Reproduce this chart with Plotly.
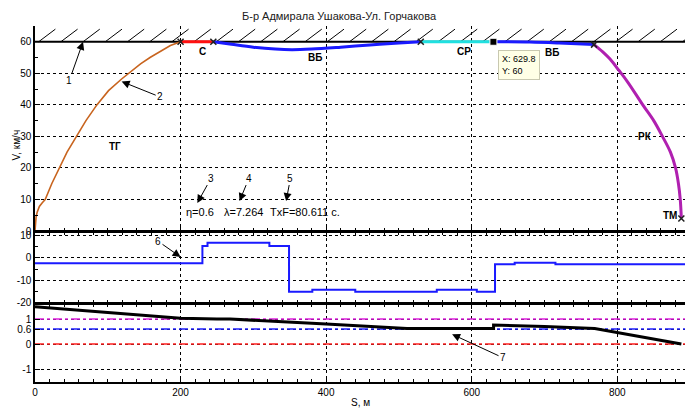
import numpy as np
import plotly.graph_objects as go
from plotly.subplots import make_subplots

# ---------------- data ----------------
title_text = "Б-р Адмирала Ушакова-Ул. Горчакова"
v_limit = 60

tg_s = [0, 0.5, 1.5, 3, 6, 10, 14, 23, 33, 44, 57, 70, 85, 101, 119, 128.6, 145, 158, 172, 186, 200]
tg_v = [0, 2.5, 4.5, 6, 7.8, 9, 10, 15, 20, 25, 30, 35, 40, 44.5, 48.2, 50, 53, 55, 57, 58.8, 60]

c_s = [200, 245]
c_v = [60, 60]

vb1_s = [245, 270, 300, 330, 353, 380, 420, 460, 500, 530]
vb1_v = [60, 59.2, 58.3, 57.7, 57.5, 57.7, 58.3, 59.0, 59.6, 60]

sr_s = [530, 630]
sr_v = [60, 60]

vb2_s = [630, 680, 720, 768]
vb2_v = [60, 59.9, 59.6, 59.1]

rk_s = [768, 780, 790, 802, 815, 835, 850, 862, 873, 880, 884, 886.5, 888]
rk_v = [59.1, 56.8, 54.5, 51, 47, 40, 35, 30, 25, 20, 15, 10, 4]

switch_s = [200, 245, 530, 768, 888]
switch_v = [60, 60, 60, 59.1, 4]

cursor_s = [629.8]
cursor_v = [60]

# middle panel (force step curve)
f_s = [0, 230, 237, 322, 349, 381, 440, 552, 607, 632, 659, 715, 893]
f_v = [-2.5, 5.2, 6.6, 5.2, -15, -14.2, -15, -14.2, -15, -2.9, -2.2, -2.9, -2.9]

# bottom panel
k_s = [0, 200, 250, 268, 400, 511, 630, 630, 700, 769, 888]
k_v = [1.49, 1.03, 1.0, 1.0, 0.8, 0.62, 0.62, 0.76, 0.70, 0.62, 0]
ref_levels = [1, 0.6, 0]
ref_colors = ["#e020e0", "#2020ff", "#ff2020"]

x_ticks = [0, 200, 400, 600, 800]
y1_ticks = [0, 10, 20, 30, 40, 50, 60]
y2_ticks = [-20, -10, 0, 10]
y2_labels = ["-20", "-10", "0", "10"]
y3_ticks = [-1, 0, 0.6, 1]
y3_labels = ["-1", "0", "0.6", "1"]

segment_labels = ["ТГ", "С", "ВБ", "СР", "ВБ", "РК", "ТМ"]
segment_label_s = [110, 230, 384, 589, 710, 838, 872]
segment_label_v = [26.7, 56.8, 55, 57, 56.5, 30, 4.8]

param_texts = ["η=0.6", "λ=7.264", "TxF=80.611 c."]
param_s = [227, 287, 371]
param_v = [6, 6, 6]

# ---------------- figure ----------------
FONT = "Liberation Sans, Arial, Helvetica, sans-serif"
XMAX = 893

fig = make_subplots(rows=3, cols=1, shared_xaxes=True)

# hatch above limit line
hx, hy = [], []
for s in np.arange(5, XMAX, 30.5):
    hx += [s, s + 23, None]
    hy += [v_limit, v_limit + 4, None]
fig.add_trace(go.Scatter(x=hx, y=hy, mode="lines", line=dict(color="black", width=1),
                         hoverinfo="skip", showlegend=False, cliponaxis=True), row=1, col=1)
fig.add_trace(go.Scatter(x=[0, XMAX], y=[v_limit, v_limit], mode="lines",
                         line=dict(color="black", width=2), showlegend=False), row=1, col=1)

fig.add_trace(go.Scatter(x=tg_s, y=tg_v, mode="lines", line=dict(color="#c8641e", width=1.6),
                         showlegend=False), row=1, col=1)
fig.add_trace(go.Scatter(x=c_s, y=c_v, mode="lines", line=dict(color="#ff1010", width=3),
                         showlegend=False), row=1, col=1)
fig.add_trace(go.Scatter(x=vb1_s, y=vb1_v, mode="lines", line=dict(color="#1a1aff", width=3, shape="spline"),
                         showlegend=False), row=1, col=1)
fig.add_trace(go.Scatter(x=sr_s, y=sr_v, mode="lines", line=dict(color="#20e0e0", width=3),
                         showlegend=False), row=1, col=1)
fig.add_trace(go.Scatter(x=vb2_s, y=vb2_v, mode="lines", line=dict(color="#1a1aff", width=3, shape="spline"),
                         showlegend=False), row=1, col=1)
fig.add_trace(go.Scatter(x=rk_s, y=rk_v, mode="lines", line=dict(color="#b020b0", width=3, shape="spline"),
                         showlegend=False), row=1, col=1)
fig.add_trace(go.Scatter(x=switch_s, y=switch_v, mode="markers",
                         marker=dict(symbol="x-thin", size=6, line=dict(color="#202020", width=1.5)),
                         showlegend=False), row=1, col=1)
fig.add_trace(go.Scatter(x=cursor_s, y=cursor_v, mode="markers",
                         marker=dict(symbol="square", size=7, color="black", line=dict(color="white", width=1)),
                         showlegend=False), row=1, col=1)

# middle
fig.add_trace(go.Scatter(x=f_s, y=f_v, mode="lines", line=dict(color="#1a1aff", width=2, shape="hv"),
                         showlegend=False), row=2, col=1)

# bottom
for lv, col in zip(ref_levels, ref_colors):
    fig.add_trace(go.Scatter(x=[0, XMAX], y=[lv, lv], mode="lines",
                             line=dict(color=col, width=1.5, dash="dashdot"), showlegend=False), row=3, col=1)
fig.add_trace(go.Scatter(x=k_s, y=k_v, mode="lines", line=dict(color="black", width=3),
                         showlegend=False), row=3, col=1)

# axes
grid = dict(showgrid=True, gridcolor="black", gridwidth=1, griddash="3px,3px")
xcommon = dict(range=[0, XMAX], tickvals=x_ticks, ticks="inside", ticklen=5, tickcolor="black",
               showline=True, linecolor="black", linewidth=1.5, zeroline=False, automargin=False,
               minor=dict(dtick=20, ticks="inside", ticklen=3, tickcolor="black", showgrid=False),
               tickfont=dict(family=FONT, size=10, color="black"), **grid)
fig.update_xaxes(**xcommon)
fig.update_xaxes(showticklabels=False, mirror=False, row=1, col=1)
fig.update_xaxes(showticklabels=False, mirror="ticks", row=2, col=1)
fig.update_xaxes(showticklabels=True, mirror="ticks", row=3, col=1)

ycommon = dict(ticks="inside", ticklen=5, tickcolor="black", showline=True, linecolor="black",
               linewidth=1.5, zeroline=False, automargin=False,
               tickfont=dict(family=FONT, size=10, color="black"), **grid)
fig.update_yaxes(**ycommon)
fig.update_yaxes(range=[0, 65], tickvals=y1_ticks, domain=[0.424, 1],
                 minor=dict(dtick=5, ticks="inside", ticklen=3, tickcolor="black", showgrid=False),
                 row=1, col=1)
fig.update_yaxes(range=[-20, 11.3], tickvals=y2_ticks, ticktext=y2_labels, domain=[0.222, 0.421],
                 minor=dict(dtick=5, ticks="inside", ticklen=3, tickcolor="black", showgrid=False),
                 row=2, col=1)
fig.update_yaxes(range=[-1.52, 1.6], tickvals=y3_ticks, ticktext=y3_labels, domain=[0, 0.219],
                 row=3, col=1)

ann = []
# title and axis titles
ann.append(dict(text=title_text, xref="paper", yref="paper", x=0.468, y=1, yshift=10,
                showarrow=False, font=dict(family=FONT, size=11, color="#202020"), yanchor="middle"))
ann.append(dict(text="V, км/ч", xref="paper", yref="paper", x=0, xshift=-26, y=0.715, textangle=-90,
                showarrow=False, font=dict(family=FONT, size=10, color="black")))
ann.append(dict(text="S, м", xref="paper", yref="paper", x=0.5, y=0, yshift=-20, yanchor="middle",
                showarrow=False, font=dict(family=FONT, size=10, color="black")))

# segment labels
for t, s, v in zip(segment_labels, segment_label_s, segment_label_v):
    ann.append(dict(text="<b>%s</b>" % t, x=s, y=v, xref="x", yref="y", showarrow=False,
                    font=dict(family=FONT, size=10, color="black")))
for t, s, v in zip(param_texts, param_s, param_v):
    ann.append(dict(text=t, x=s, y=v, xref="x", yref="y", showarrow=False,
                    font=dict(family=FONT, size=11, color="black")))

# numbered arrows: (label, tip_s, tip_v, text_s, text_v, panel)
arrows = [("1", 66, 60, 47, 47.6, 1), ("2", 119, 47.4, 172, 42.5, 1),
          ("3", 223, 8.9, 242, 16.8, 1), ("4", 281, 9.5, 294, 16.8, 1),
          ("5", 345, 9.5, 351, 16.8, 1), ("6", 200, 0.3, 169, 7.3, 2),
          ("7", 573, 0.39, 643, -0.55, 3)]
for lab, ts, tv, ls, lv, p in arrows:
    xr = "x" if p == 1 else "x%d" % p
    yr = "y" if p == 1 else "y%d" % p
    ann.append(dict(text=lab, x=ts, y=tv, ax=ls, ay=lv, xref=xr, yref=yr, axref=xr, ayref=yr,
                    showarrow=True, arrowhead=2, arrowsize=1.6, arrowwidth=1, arrowcolor="black",
                    font=dict(family=FONT, size=10, color="black")))

# data cursor tooltip
ann.append(dict(text="X: 629.8<br>Y: 60", x=cursor_s[0], y=cursor_v[0], xref="x", yref="y",
                xanchor="left", yanchor="top", xshift=5, yshift=-8, showarrow=False, align="left",
                bgcolor="#ffffe6", bordercolor="#c8c8b0", borderwidth=1, borderpad=3,
                font=dict(family=FONT, size=9, color="black")))

fig.update_layout(width=685, height=408, margin=dict(l=35, r=0, t=26, b=26),
                  plot_bgcolor="white", paper_bgcolor="white", showlegend=False,
                  annotations=ann, font=dict(family=FONT), hovermode=False)
fig.write_html("out.html", config={"displayModeBar": False},
               post_script="document.body.style.margin='0';document.body.style.padding='0';")
